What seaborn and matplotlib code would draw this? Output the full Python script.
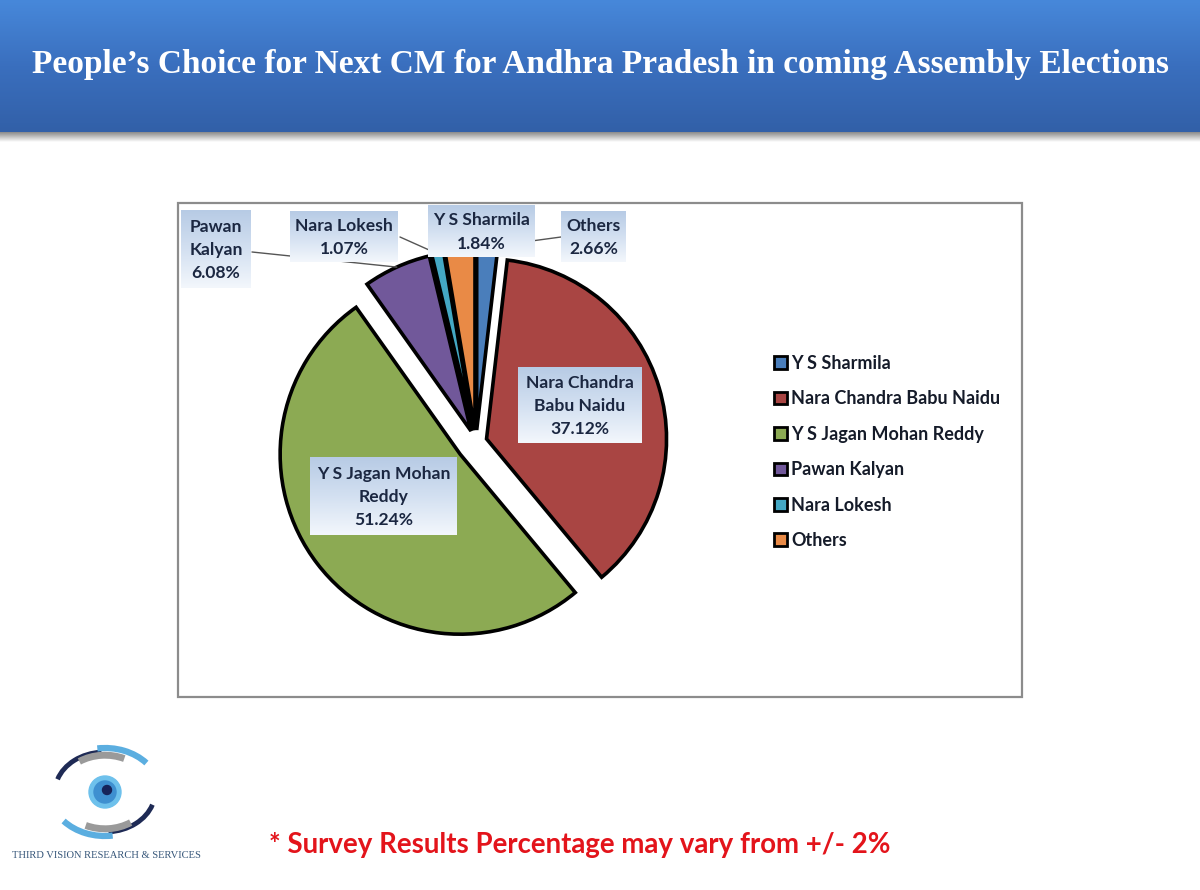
import numpy as np
import pandas as pd
import seaborn as sns
import matplotlib
matplotlib.use("Agg")
import matplotlib.pyplot as plt
from matplotlib.patches import Rectangle, Patch, Circle, Arc
from matplotlib.colors import LinearSegmentedColormap

# ---------------- data ----------------
candidates = ["Y S Sharmila", "Nara Chandra Babu Naidu", "Y S Jagan Mohan Reddy",
              "Pawan Kalyan", "Nara Lokesh", "Others"]
shares = [1.84, 37.12, 51.24, 6.08, 1.07, 2.66]
label_names = ["Y S Sharmila", "Nara Chandra\nBabu Naidu", "Y S Jagan Mohan\nReddy",
               "Pawan\nKalyan", "Nara Lokesh", "Others"]
title_text = "People\u2019s Choice for Next CM for Andhra Pradesh in coming Assembly Elections"
footer_text = "* Survey Results Percentage may vary from +/- 2%"
logo_text = "THIRD VISION RESEARCH & SERVICES"

df = pd.DataFrame({"candidate": candidates, "share": shares, "label": label_names})

# ---------------- style ----------------
sns.set_theme(style="white")
plt.rcParams["font.family"] = ["Lato", "DejaVu Sans"]

palette = sns.color_palette(["#4A7EBB", "#A94543", "#8CAA53", "#71589A", "#44A8C4", "#E98A46"])

W, H = 1200, 890
def Y(py):
    return H - py

fig = plt.figure(figsize=(12, 8.9), dpi=100)
ax = fig.add_axes([0, 0, 1, 1])

# banner
grad = np.linspace(0, 1, 200).reshape(-1, 1)
bcmap = LinearSegmentedColormap.from_list("banner", ["#4788DA", "#3A6FBE", "#3260A8"])
ax.imshow(grad, extent=(0, W, Y(132), Y(0)), cmap=bcmap, aspect="auto", origin="upper", zorder=0)
scmap = LinearSegmentedColormap.from_list("shadow", ["#8a8a8a", "#ffffff"])
ax.imshow(grad, extent=(0, W, Y(142), Y(132)), cmap=scmap, aspect="auto", origin="upper", zorder=0)
ax.text(W / 2 + 1, Y(64), title_text, ha="center", va="center", color="white",
        fontsize=24, fontweight="bold", family=["Liberation Serif", "DejaVu Serif"], zorder=3)

# chart frame
ax.add_patch(Rectangle((178, Y(697)), 844, 494, fill=False, edgecolor="#8c8c8c", lw=1.6, zorder=1))

# pie
explode = [12, 11, 20, 12, 12, 12]
wedges, _ = ax.pie(df["share"], colors=palette, startangle=90, counterclock=False,
                   center=(476, Y(442)), radius=180, explode=explode, frame=True,
                   wedgeprops=dict(edgecolor="black", linewidth=2.6, joinstyle="miter", zorder=2))
ax.set_xlim(0, W)
ax.set_ylim(0, H)
ax.set_aspect("auto")
ax.axis("off")

def arc_mid(w):
    t = np.deg2rad((w.theta1 + w.theta2) / 2)
    return w.center[0] + w.r * np.cos(t), w.center[1] + w.r * np.sin(t)

# label boxes (x0, y0, x1, y1 in pixels)
boxes = {
    "Y S Sharmila": (428, 205, 535, 257),
    "Nara Chandra Babu Naidu": (518, 367, 642, 443),
    "Y S Jagan Mohan Reddy": (310, 457, 457, 535),
    "Pawan Kalyan": (181, 210, 251, 288),
    "Nara Lokesh": (290, 211, 398, 262),
    "Others": (561, 211, 626, 262),
}
# leader lines: start point at box edge
leaders = {
    "Pawan Kalyan": (252, 252),
    "Nara Lokesh": (400, 237),
    "Others": (561, 237),
}
for w, name in zip(wedges, df["candidate"]):
    if name in leaders:
        sx, sy = leaders[name]
        mx, my = arc_mid(w)
        ax.plot([sx, mx], [Y(sy), my], color="#555555", lw=1.0, zorder=3)

lcmap = LinearSegmentedColormap.from_list("lbl", ["#B7CBE5", "#D3E0F1", "#F3F7FC"])
for name, lab, val in zip(df["candidate"], df["label"], df["share"]):
    x0, y0, x1, y1 = boxes[name]
    ax.imshow(grad, extent=(x0, x1, Y(y1), Y(y0)), cmap=lcmap, aspect="auto",
              origin="upper", zorder=4)
    ax.text((x0 + x1) / 2, Y((y0 + y1) / 2 + 1), f"{lab}\n{val:.2f}%", ha="center", va="center",
            fontsize=12.6, fontweight="bold", color="#1B2741", linespacing=1.55, zorder=5)

# legend
handles = [Patch(facecolor=c, edgecolor="black", linewidth=2.0) for c in palette]
fig.legend(handles, df["candidate"], loc="upper left", bbox_to_anchor=(774 / W, 1 - 355 / H),
           frameon=False, handlelength=0.7, handleheight=0.7,
           handletextpad=0.25, labelspacing=1.02, borderpad=0, borderaxespad=0,
           prop=dict(family="Lato", weight="bold", size=13), labelcolor="#151b29")

# footer
ax.text(580, Y(845), footer_text, ha="center", va="center", color="#E3141B",
        fontsize=19.9, fontweight="bold", zorder=3)

# logo
cx, cy = 105, Y(792)
for r, a1, a2, col, lw in [(50, 95, 165, "#1E2A55", 3.5), (46, 60, 130, "#9A9A9A", 5),
                           (55, 35, 100, "#5BAEE0", 4.5), (50, 275, 345, "#1E2A55", 3.5),
                           (46, 240, 310, "#9A9A9A", 5), (55, 215, 280, "#5BAEE0", 4.5)]:
    ax.add_patch(Arc((cx, cy), 2 * r, 2 * r * 0.8, angle=0, theta1=a1, theta2=a2,
                     color=col, lw=lw, zorder=3))
ax.add_patch(Circle((cx, cy), 16, color="#6EC1EC", zorder=3))
ax.add_patch(Circle((cx, cy), 11, color="#3E8FD0", zorder=3))
ax.add_patch(Circle((cx + 2, cy + 2), 4.5, color="#16235A", zorder=3))
ax.text(106, Y(855), logo_text, ha="center", va="center", color="#37577A", fontsize=7.6,
        family=["Liberation Serif", "DejaVu Serif"], zorder=3)

fig.savefig("out.png", dpi=100)
